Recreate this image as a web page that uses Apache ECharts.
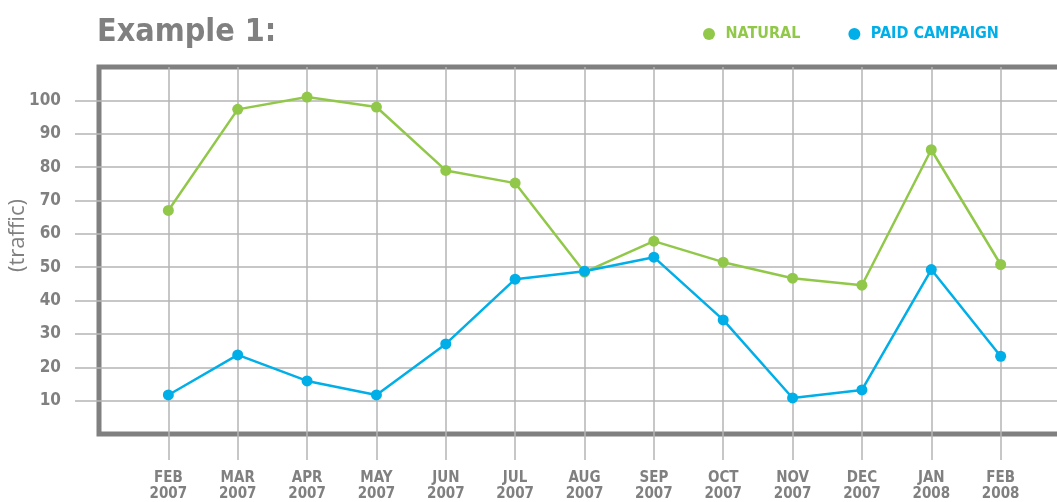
<!DOCTYPE html>
<html>
<head>
<meta charset="utf-8">
<script src="https://cdn.jsdelivr.net/npm/echarts@6/dist/echarts.min.js"></script>
<style>
  html, body { margin: 0; padding: 0; background: #fff; }
  #chart { width: 1057px; height: 502px; }
</style>
</head>
<body>
<div id="chart"></div>
<script>
// months on the x axis
var months = ['FEB\n2007', 'MAR\n2007', 'APR\n2007', 'MAY\n2007', 'JUN\n2007', 'JUL\n2007',
  'AUG\n2007', 'SEP\n2007', 'OCT\n2007', 'NOV\n2007', 'DEC\n2007', 'JAN\n2008', 'FEB\n2008'];
var natural = [67, 97.3, 101, 98, 79, 75.2, 48.5, 57.8, 51.5, 46.7, 44.6, 85.2, 50.8];
var paid = [11.7, 23.7, 15.9, 11.7, 27, 46.4, 48.8, 53, 34.2, 10.8, 13.2, 49.3, 23.3];
var yTicks = [10, 20, 30, 40, 50, 60, 70, 80, 90, 100];

var gray = '#808080';
var gridGray = '#b5b5b5';
var green = '#92c84a';
var blue = '#00aee8';

function pairs (arr) {
  return arr.map(function (v, i) { return [i, v]; });
}
var monthIdx = months.map(function (m, i) { return i; });

var myChart = echarts.init(document.getElementById('chart'));
myChart.setOption({
  animation: false,
  title: {
    text: 'Example 1:',
    left: 97,
    top: 17,
    padding: 0,
    textStyle: {
      color: gray,
      fontSize: 32,
      fontWeight: 'bold',
      fontFamily: 'DejaVu Sans Condensed'
    }
  },
  legend: {
    left: 703,
    top: 26,
    padding: 0,
    icon: 'circle',
    itemWidth: 23,
    itemHeight: 12,
    itemGap: 48,
    textStyle: { fontSize: 16, fontWeight: 'bold', fontFamily: 'DejaVu Sans Condensed' },
    data: [
      { name: 'NATURAL', textStyle: { color: green } },
      { name: 'PAID CAMPAIGN', textStyle: { color: blue } }
    ]
  },
  grid: {
    left: 99,
    top: 67,
    bottom: 68,
    right: -13,
    show: true,
    borderColor: gray,
    borderWidth: 5,
    outerBoundsMode: 'none'
  },
  xAxis: {
    type: 'value',
    min: -1,
    max: 13,
    interval: 1,
    axisLine: { show: false, onZero: false },
    axisTick: {
      show: true,
      length: 26,
      customValues: monthIdx,
      lineStyle: { color: gridGray, width: 1.5 }
    },
    axisLabel: {
      customValues: monthIdx,
      margin: 36,
      color: gray,
      fontSize: 15,
      fontWeight: 'bold',
      lineHeight: 16,
      fontFamily: 'DejaVu Sans Condensed',
      formatter: function (v) { return months[v] || ''; }
    },
    splitLine: { show: true, lineStyle: { color: gridGray, width: 1.5 } }
  },
  yAxis: {
    type: 'value',
    min: 0,
    max: 110,
    interval: 10,
    name: '(traffic)',
    nameLocation: 'middle',
    nameGap: 70,
    nameMoveOverlap: false,
    nameTextStyle: { color: gray, fontSize: 22, fontFamily: 'Open Sans', padding: [0, 0, 0, 30] },
    axisLine: { show: false, onZero: false },
    axisTick: {
      show: true,
      length: 24,
      customValues: yTicks,
      lineStyle: { color: gridGray, width: 1.5 }
    },
    axisLabel: {
      customValues: yTicks,
      margin: 38,
      color: gray,
      fontSize: 17,
      fontWeight: 'bold',
      fontFamily: 'DejaVu Sans Condensed'
    },
    splitLine: { show: true, lineStyle: { color: gridGray, width: 1.5 } }
  },
  series: [
    {
      name: 'NATURAL',
      type: 'line',
      data: pairs(natural),
      symbol: 'circle',
      symbolSize: 11,
      itemStyle: { color: green },
      lineStyle: { color: green, width: 2.5 }
    },
    {
      name: 'PAID CAMPAIGN',
      type: 'line',
      data: pairs(paid),
      symbol: 'circle',
      symbolSize: 11,
      itemStyle: { color: blue },
      lineStyle: { color: blue, width: 2.5 }
    }
  ]
});
</script>
</body>
</html>
